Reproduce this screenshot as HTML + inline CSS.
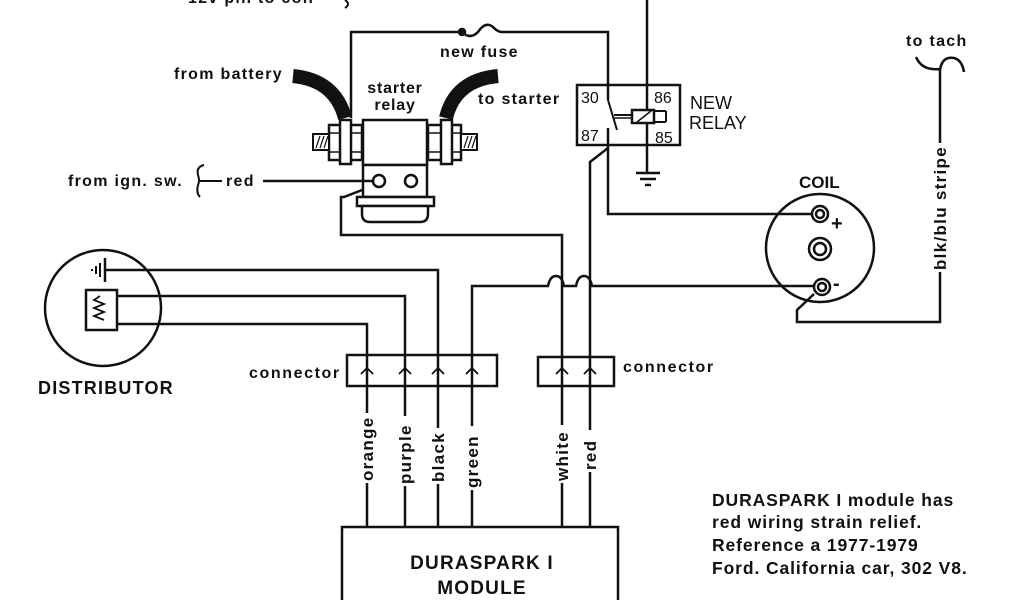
<!DOCTYPE html>
<html><head><meta charset="utf-8"><style>
html,body{margin:0;padding:0;background:#fff;width:1024px;height:600px;overflow:hidden}
svg text{font-family:"Liberation Sans",sans-serif;fill:#111}
.b{font-weight:bold;font-size:16px;letter-spacing:1.3px}
.v{font-size:17px;letter-spacing:1.3px}
.r{font-size:17.5px;letter-spacing:0.9px}
</style></head><body>
<svg width="1024" height="600" viewBox="0 0 1024 600" xmlns="http://www.w3.org/2000/svg">
<g fill="none" stroke="#111" stroke-width="2.5">
<polyline points="351,118 351,32 462,32"/>
<circle cx="462" cy="32" r="3" fill="#111"/>
<path d="M462,32 q8,8 16,0 q8,-12 16,-4 q4,4 8,4 L608,32 L608,100"/>
<rect x="577" y="85" width="103" height="60"/>
<line x1="647" y1="0" x2="647" y2="173"/>
<rect x="632" y="110" width="22" height="13" fill="#fff"/>
<line x1="637" y1="122" x2="651" y2="111" stroke-width="1.5"/>
<line x1="654" y1="111" x2="666" y2="111" stroke-width="2"/>
<line x1="666" y1="111" x2="666" y2="122" stroke-width="2"/>
<line x1="654" y1="122" x2="666" y2="122" stroke-width="2"/>
<line x1="608" y1="100" x2="617" y2="130" stroke-width="2"/>
<line x1="614" y1="115" x2="632" y2="115" stroke-width="2"/>
<line x1="614" y1="118" x2="632" y2="118" stroke-width="1.5"/>
<line x1="636" y1="173" x2="660" y2="173"/>
<line x1="640" y1="179" x2="656" y2="179"/>
<line x1="645" y1="185" x2="651" y2="185"/>
<polyline points="608,128 608,214 812,214"/>
<polyline points="608,148 590,162 590,527"/>
<circle cx="820" cy="248" r="54"/>
<circle cx="820" cy="214" r="8" fill="#fff"/><circle cx="820" cy="214" r="4"/>
<circle cx="820" cy="249" r="11"/><circle cx="820" cy="249" r="6"/>
<circle cx="822" cy="287" r="8" fill="#fff"/><circle cx="822" cy="287" r="4"/>
<polyline points="814,294 797,310 797,322 940,322 940,70"/>
<path d="M916,57 q6,14 24,12 M940,70 q2,-14 14,-12 q8,2 10,14"/>
<path d="M472,527 L472,286 L548,286 q2,-10 8,-10 q6,0 8,10 L576,286 q2,-10 8,-10 q6,0 8,10 L814,286"/>
<polyline points="375,185 344,197 341,197 341,235 562,235 562,527"/>
<rect x="363" y="120" width="64" height="45" fill="#fff"/>
<rect x="363" y="165" width="64" height="32" fill="#fff"/>
<rect x="357" y="197" width="77" height="9" fill="#fff"/>
<path d="M362,206 L428,206 L428,214 q0,8 -8,8 L370,222 q-8,0 -8,-8 Z" fill="#fff"/>
<circle cx="379" cy="181" r="6"/><circle cx="411" cy="181" r="6"/>
<line x1="263" y1="181" x2="373" y2="181"/>
<rect x="329" y="125" width="33" height="35" fill="#fff"/>
<line x1="329" y1="133" x2="362" y2="133" stroke-width="1.5"/><line x1="329" y1="152" x2="362" y2="152" stroke-width="1.5"/>
<rect x="340" y="120" width="11" height="44" fill="#fff"/>
<rect x="313" y="134" width="16" height="16" fill="#fff" stroke-width="2"/>
<rect x="428" y="125" width="33" height="35" fill="#fff"/>
<line x1="428" y1="133" x2="461" y2="133" stroke-width="1.5"/><line x1="428" y1="152" x2="461" y2="152" stroke-width="1.5"/>
<rect x="441" y="120" width="11" height="44" fill="#fff"/>
<rect x="461" y="134" width="16" height="16" fill="#fff" stroke-width="2"/>
<g stroke-width="1.2"><path d="M316,148 l4,-12 M320,148 l4,-12 M324,148 l4,-12 M464,148 l4,-12 M468,148 l4,-12 M472,148 l4,-12"/></g>
<path d="M293,76 Q335,80 345,118" stroke-width="14"/>
<path d="M498,76 Q455,80 446,118" stroke-width="14"/>
<path d="M204,165 q-8,2 -6,10 q2,6 0,10 q-2,8 2,12 M198,181 L222,181" stroke-width="2"/>
<path d="M345,0 q6,4 0,8" stroke-width="2"/>
<circle cx="103" cy="308" r="58"/>
<line x1="105" y1="258" x2="105" y2="282"/>
<line x1="100" y1="263" x2="100" y2="277" stroke-width="2"/>
<line x1="96" y1="266" x2="96" y2="274" stroke-width="2"/>
<line x1="92" y1="269" x2="92" y2="271" stroke-width="2"/>
<rect x="86" y="290" width="31" height="40"/>
<path d="M100,296 l-6,4 l10,4 l-10,4 l10,4 l-10,4 l10,4" stroke-width="1.8"/>
<polyline points="105,270 438,270 438,527"/>
<polyline points="117,296 405,296 405,527"/>
<polyline points="117,324 367,324 367,527"/>
<rect x="347" y="355" width="150" height="31" fill="none"/>
<rect x="538" y="357" width="76" height="29" fill="none"/>
<g stroke-width="1.8">
<path d="M361,374 l6,-6 l6,6 M399,374 l6,-6 l6,6 M432,374 l6,-6 l6,6 M466,374 l6,-6 l6,6 M556,374 l6,-6 l6,6 M584,374 l6,-6 l6,6"/>
</g>
<rect x="342" y="527" width="276" height="80"/>
</g>
<g fill="#fff">
<rect x="356" y="413" width="22" height="70"/><rect x="394" y="416" width="22" height="70"/>
<rect x="427" y="428" width="22" height="56"/><rect x="461" y="426" width="22" height="64"/>
<rect x="551" y="425" width="22" height="58"/><rect x="579" y="430" width="22" height="42"/>
<rect x="929" y="143" width="22" height="129"/>
</g>
<g class="b">
<text x="188" y="3">12v pin to coil</text>
<text x="440" y="57">new fuse</text>
<text x="174" y="79">from battery</text>
<text x="395" y="93" text-anchor="middle" style="letter-spacing:0.8px">starter</text>
<text x="395" y="110" text-anchor="middle" style="letter-spacing:0.8px">relay</text>
<text x="478" y="104">to starter</text>
<text x="68" y="186">from ign. sw.</text>
<text x="226" y="186">red</text>
<text x="906" y="46">to tach</text>
<text x="249" y="378" style="letter-spacing:1.6px">connector</text>
<text x="623" y="372" style="letter-spacing:1.6px">connector</text>
<text class="r" x="712" y="506">DURASPARK  I module has</text>
<text class="r" x="712" y="528">red wiring strain relief.</text>
<text class="r" x="712" y="551">Reference a 1977-1979</text>
<text class="r" x="712" y="574">Ford. California car, 302 V8.</text>
<text class="v" transform="translate(373,481) rotate(-90)">orange</text>
<text class="v" transform="translate(411,484) rotate(-90)">purple</text>
<text class="v" transform="translate(444,482) rotate(-90)">black</text>
<text class="v" transform="translate(478,488) rotate(-90)">green</text>
<text class="v" transform="translate(568,481) rotate(-90)">white</text>
<text class="v" transform="translate(596,470) rotate(-90)">red</text>
<text class="v" transform="translate(946,270) rotate(-90)">blk/blu stripe</text>
</g>
<g style="font-size:16px">
<text x="581" y="103">30</text><text x="654" y="103">86</text>
<text x="581" y="141">87</text><text x="655" y="143">85</text>
<text x="690" y="109" style="font-size:18px">NEW</text>
<text x="689" y="129" style="font-size:18px">RELAY</text>
<text x="799" y="188" style="font-size:17px;font-weight:bold">COIL</text>
<text x="831" y="230" style="font-size:20px;font-weight:bold">+</text>
<text x="833" y="290" style="font-size:20px;font-weight:bold">-</text>
<text x="38" y="394" style="font-size:18px;font-weight:bold;letter-spacing:1.2px">DISTRIBUTOR</text>
<text x="482" y="569" text-anchor="middle" style="font-size:19px;font-weight:bold;letter-spacing:1.2px">DURASPARK  I</text>
<text x="482" y="594" text-anchor="middle" style="font-size:19px;font-weight:bold;letter-spacing:1.2px">MODULE</text>
</g>
</svg>
</body></html>
